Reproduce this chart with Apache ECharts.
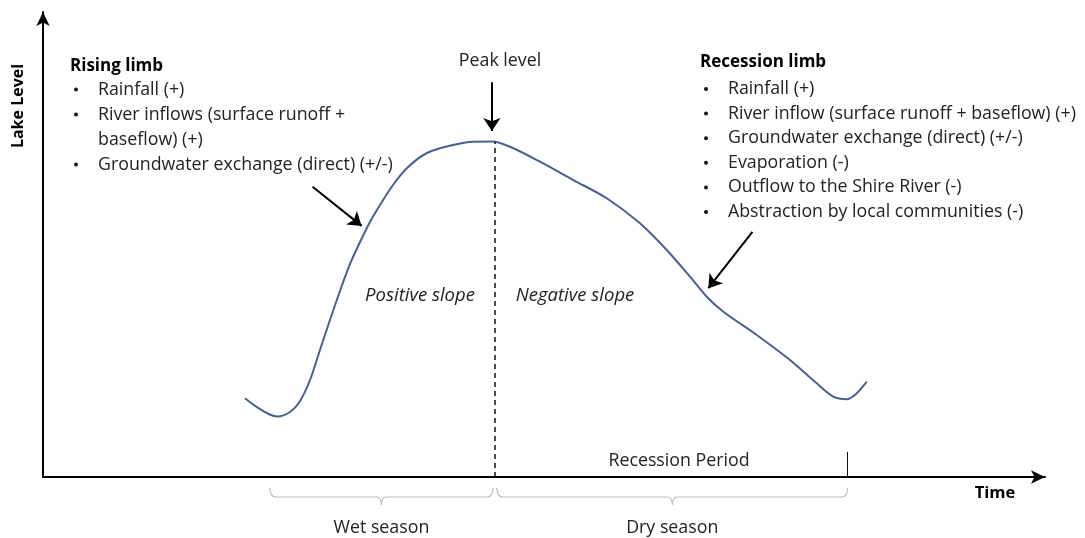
<!DOCTYPE html>
<html>
<head>
<meta charset="utf-8">
<script src="https://cdn.jsdelivr.net/npm/echarts@6/dist/echarts.min.js"></script>
<style>
  html, body { margin: 0; padding: 0; background: #fff; }
  #chart { width: 1085px; height: 538px; }
</style>
</head>
<body>
<div id="chart"></div>
<script>
// lake level curve (time units 0-100, level units 0-100)
var curveX = [20.16, 23.35, 24.65, 25.65, 26.65, 27.64, 28.64, 29.64, 30.64, 31.64, 32.63, 33.63, 34.93, 36.33, 38.32, 40.92, 42.91, 44.81,
  46.61, 49.60, 52.92, 56.26, 59.58, 62.25, 64.57, 66.24, 67.90, 71.23, 74.55, 77.22, 78.87, 80.21, 81.21, 82.21];
var curveY = [16.92, 13.01, 13.98, 16.34, 20.86, 27.31, 33.76, 40.0, 45.81, 50.54, 54.84, 58.49, 62.80, 66.45, 69.68, 71.40, 72.11, 72.15,
  71.03, 67.81, 63.87, 59.94, 54.56, 48.82, 43.08, 38.77, 35.55, 30.54, 25.16, 20.15, 17.27, 16.71, 18.0, 20.49];

var peakX = 45.1;
var peakY = 72.1;
var recessionEndX = 80.3;
var recessionTickY = 5.4;

// annotation arrows [x1, y1, x2, y2]
var arrows = [
  [44.8, 84.9, 44.8, 74.4],
  [26.9, 62.4, 31.8, 54.0],
  [70.8, 52.7, 66.4, 40.6]
];

var seasons = ['Wet season', 'Dry season'];
var seasonStart = [22.65, 45.3];
var seasonEnd = [44.9, 80.3];

var risingTitle = 'Rising limb';
var risingItems = ['Rainfall (+)', 'River inflows (surface runoff +', 'baseflow) (+)', 'Groundwater exchange (direct) (+/-)'];
var risingBullets = [true, true, false, true];

var recessionTitle = 'Recession limb';
var recessionItems = ['Rainfall (+)', 'River inflow (surface runoff + baseflow) (+)', 'Groundwater exchange (direct) (+/-)',
  'Evaporation (-)', 'Outflow to the Shire River (-)', 'Abstraction by local communities (-)'];
var recessionBullets = [true, true, true, true, true, true];

var FONT = 'Open Sans';
var FS = 17.8;

var chart = echarts.init(document.getElementById('chart'));

function txt(text, x, y, font, align) {
  return {
    type: 'text', x: x, y: y,
    style: { text: text, font: font, fill: '#222', textAlign: align || 'left', textVerticalAlign: 'middle' }
  };
}

function textBlock(title, items, bullets, x, titleY, firstY, step) {
  var t = txt(title, x, titleY, 'bold 17px ' + FONT);
  t.style.fill = '#000';
  var els = [t];
  items.forEach(function (s, i) {
    var y = firstY + step * i;
    if (bullets[i]) {
      els.push({ type: 'circle', shape: { cx: x + 6, cy: y, r: 2 }, style: { fill: '#111' } });
    }
    els.push(txt(s, x + 28, y, FS + 'px ' + FONT));
  });
  return els;
}

var graphics = [];
graphics = graphics.concat(textBlock(risingTitle, risingItems, risingBullets, 70, 66, 89.5, 25));
graphics = graphics.concat(textBlock(recessionTitle, recessionItems, recessionBullets, 700, 62, 89, 24.6));

var lake = txt('Lake Level', 18, 106, 'bold 16px ' + FONT, 'center');
lake.rotation = Math.PI / 2;
lake.style.fill = '#000';
var time = txt('Time', 995, 493, 'bold 16.5px ' + FONT, 'center');
time.style.fill = '#000';
graphics.push(
  lake, time,
  txt('Peak level', 500, 61, FS + 'px ' + FONT, 'center'),
  txt('Recession Period', 679, 461, FS + 'px ' + FONT, 'center'),
  txt('Positive slope', 420, 296, 'italic 18.5px ' + FONT, 'center'),
  txt('Negative slope', 575, 296, 'italic 18.5px ' + FONT, 'center')
);

var option = {
  backgroundColor: '#fff',
  animation: false,
  grid: { left: 43, right: 40, top: 12, bottom: 61 },
  xAxis: {
    type: 'value', min: 0, max: 100,
    axisLine: { lineStyle: { color: '#000', width: 2 }, symbol: ['none', 'arrow'], symbolSize: [10, 14] },
    axisTick: { show: false }, axisLabel: { show: false }, splitLine: { show: false }
  },
  yAxis: {
    type: 'value', min: 0, max: 100,
    axisLine: { lineStyle: { color: '#000', width: 2 }, symbol: ['none', 'arrow'], symbolSize: [10, 14] },
    axisTick: { show: false }, axisLabel: { show: false }, splitLine: { show: false }
  },
  graphic: graphics,
  series: [
    {
      type: 'line',
      data: curveX.map(function (x, i) { return [x, curveY[i]]; }),
      smooth: 0.3,
      showSymbol: false,
      lineStyle: { color: '#44609b', width: 2 },
      markLine: {
        silent: true,
        symbol: 'none',
        label: { show: false },
        data: [
          [{ coord: [peakX, 0], lineStyle: { type: [5, 4], color: '#111', width: 1.5 } }, { coord: [peakX, peakY] }],
          [{ coord: [recessionEndX, 0], lineStyle: { type: 'solid', color: '#111', width: 1 } }, { coord: [recessionEndX, recessionTickY] }]
        ]
      }
    },
    {
      type: 'lines',
      coordinateSystem: 'cartesian2d',
      symbol: ['none', 'arrow'],
      symbolSize: 13,
      lineStyle: { color: '#000', width: 2, opacity: 1 },
      data: arrows.map(function (a) { return { coords: [[a[0], a[1]], [a[2], a[3]]] }; })
    },
    {
      type: 'custom',
      clip: false,
      data: seasons.map(function (s, i) { return [seasonStart[i], seasonEnd[i]]; }),
      renderItem: function (params, api) {
        var p0 = api.coord([api.value(0), 0]);
        var p1 = api.coord([api.value(1), 0]);
        var x0 = p0[0], x1 = p1[0], base = p0[1];
        var mid = (x0 + x1) / 2;
        var yTop = base + 11, yH = base + 20, yTick = base + 28;
        var path = 'M' + x0 + ' ' + yTop + ' Q' + x0 + ' ' + yH + ' ' + (x0 + 6) + ' ' + yH +
          ' L' + (mid - 5) + ' ' + yH + ' Q' + mid + ' ' + yH + ' ' + mid + ' ' + yTick +
          ' Q' + mid + ' ' + yH + ' ' + (mid + 5) + ' ' + yH +
          ' L' + (x1 - 6) + ' ' + yH + ' Q' + x1 + ' ' + yH + ' ' + x1 + ' ' + yTop;
        return {
          type: 'group',
          children: [
            { type: 'path', shape: { pathData: path }, style: { fill: 'none', stroke: '#bbb', lineWidth: 1.2 } },
            { type: 'text', x: mid, y: base + 51,
              style: { text: seasons[params.dataIndex], font: FS + 'px ' + FONT, fill: '#222', textAlign: 'center', textVerticalAlign: 'middle' } }
          ]
        };
      }
    }
  ]
};
chart.setOption(option);
</script>
</body>
</html>
